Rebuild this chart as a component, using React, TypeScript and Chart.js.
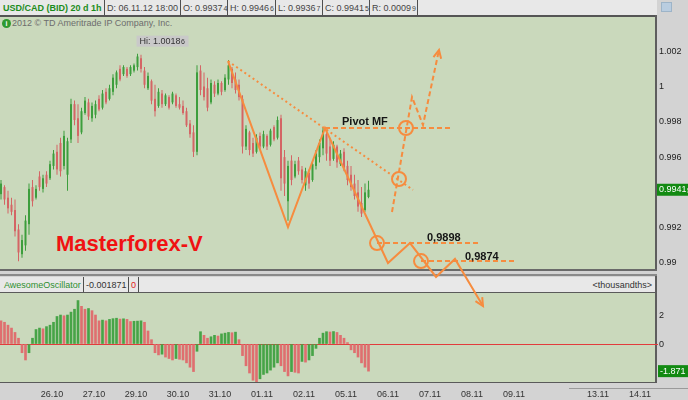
import React, { useEffect, useRef } from "react";
import { Chart, registerables } from "chart.js";
Chart.register(...registerables);

const FONT = "'Liberation Sans', Arial, Helvetica, sans-serif";

// ---- USD/CAD 2-hour bars ----
const OPEN = [
  0.9939, 0.9943, 0.9937, 0.9933, 0.9930, 0.9919, 0.9905, 0.9910, 0.9922, 0.9943,
  0.9937, 0.9949, 0.9942, 0.9950, 0.9948, 0.9955, 0.9963, 0.9968, 0.9955, 0.9950,
  0.9970, 0.9990, 0.9982, 0.9974, 0.9985, 0.9991, 0.9982, 0.9984, 0.9993, 0.9988,
  0.9997, 0.9993, 0.9997, 1.0001, 1.0010, 1.0007, 1.0010, 1.0007, 1.0009, 1.0011,
  1.0016, 1.0009, 0.9999, 1.0003, 0.9993, 0.9989, 0.9996, 0.9990, 0.9994, 0.9991,
  0.9995, 0.9990, 0.9989, 0.9986, 0.9979, 0.9974, 0.9963, 1.0009, 1.0000, 0.9999,
  0.9991, 1.0001, 0.9996, 1.0002, 0.9998, 1.0004, 1.0010, 1.0004, 1.0001, 0.9993,
  0.9966, 0.9974, 0.9968, 0.9963, 0.9972, 0.9966, 0.9972, 0.9967, 0.9977, 0.9971,
  0.9982, 0.9960, 0.9935, 0.9958, 0.9949, 0.9958, 0.9953, 0.9944, 0.9951, 0.9947,
  0.9955, 0.9960, 0.9965, 0.9973, 0.9966, 0.9959, 0.9966, 0.9956, 0.9963, 0.9955,
  0.9950, 0.9945, 0.9940, 0.9934, 0.9930, 0.99374,
];
const HIGH = [
  0.9947, 0.9944, 0.9941, 0.9937, 0.9936, 0.9922, 0.9916, 0.9927, 0.9945, 0.9947,
  0.9944, 0.9952, 0.9950, 0.9952, 0.9958, 0.9964, 0.9967, 0.9971, 0.9975, 0.9971,
  0.9993, 0.9992, 0.9990, 0.9988, 0.9994, 0.9993, 0.9991, 0.9992, 0.9995, 0.9998,
  0.9999, 1.0001, 1.0007, 1.0009, 1.0012, 1.0012, 1.0011, 1.0012, 1.0013, 1.00186,
  1.0018, 1.0011, 1.0008, 1.0004, 1.0001, 0.9999, 0.9998, 0.9996, 0.9995, 0.9997,
  0.9996, 0.9994, 0.9992, 0.9988, 0.9981, 0.9978, 1.0012, 1.0012, 1.0008, 1.0005,
  1.0004, 1.0003, 1.0004, 1.0003, 1.0007, 1.0015, 1.0011, 1.0008, 1.0004, 0.9995,
  0.9978, 0.9975, 0.9971, 0.9973, 0.9974, 0.9975, 0.9973, 0.9976, 0.9978, 0.9983,
  0.9984, 0.9964, 0.9958, 0.9961, 0.9958, 0.9960, 0.9955, 0.9954, 0.9953, 0.9958,
  0.9964, 0.9970, 0.9977, 0.9975, 0.9971, 0.9969, 0.9967, 0.9964, 0.9965, 0.9958,
  0.9955, 0.9950, 0.9947, 0.9943, 0.9945, 0.99466,
];
const LOW = [
  0.9936, 0.9933, 0.9928, 0.9927, 0.9915, 0.9901, 0.9903, 0.9907, 0.9916, 0.9932,
  0.9936, 0.9941, 0.9940, 0.9943, 0.9947, 0.9953, 0.9950, 0.9949, 0.9953, 0.9941,
  0.9968, 0.9978, 0.9968, 0.9973, 0.9984, 0.9981, 0.9980, 0.9982, 0.9986, 0.9987,
  0.9990, 0.9992, 0.9995, 0.9999, 1.0003, 1.0006, 1.0005, 1.0006, 1.0008, 1.0009,
  1.0008, 0.9999, 0.9998, 0.9990, 0.9983, 0.9988, 0.9988, 0.9989, 0.9987, 0.9990,
  0.9988, 0.9987, 0.9984, 0.9977, 0.9971, 0.9960, 0.9961, 0.9995, 0.9992, 0.9986,
  0.9990, 0.9994, 0.9995, 0.9995, 0.9997, 1.0001, 0.9999, 0.9996, 0.9992, 0.9962,
  0.9964, 0.9961, 0.9960, 0.9962, 0.9964, 0.9965, 0.9964, 0.9966, 0.9969, 0.9970,
  0.9941, 0.9938, 0.9924, 0.9944, 0.9948, 0.9950, 0.9945, 0.9941, 0.9942, 0.9946,
  0.9953, 0.9957, 0.9961, 0.9958, 0.9955, 0.9958, 0.9954, 0.9955, 0.9952, 0.9944,
  0.9941, 0.9936, 0.9929, 0.9926, 0.9929, 0.99367,
];
const CLOSE = [
  0.9945, 0.9936, 0.9931, 0.9929, 0.9918, 0.9906, 0.9913, 0.9924, 0.9942, 0.9935,
  0.9942, 0.9943, 0.9948, 0.9945, 0.9956, 0.9962, 0.9953, 0.9952, 0.9972, 0.9969,
  0.9990, 0.9981, 0.9972, 0.9986, 0.9992, 0.9983, 0.9989, 0.9990, 0.9987, 0.9996,
  0.9991, 0.9999, 1.0005, 1.0008, 1.0004, 1.0011, 1.0006, 1.0011, 1.0012, 1.0017,
  1.0010, 1.0001, 1.0006, 0.9992, 0.9986, 0.9997, 0.9990, 0.9995, 0.9988, 0.9996,
  0.9989, 0.9988, 0.9985, 0.9978, 0.9973, 0.9963, 1.0008, 0.9998, 0.9994, 0.9988,
  1.0002, 0.9996, 1.0002, 0.9997, 1.0005, 1.0012, 1.0002, 0.9998, 0.9994, 0.9966,
  0.9976, 0.9964, 0.9962, 0.9971, 0.9966, 0.9973, 0.9966, 0.9975, 0.9970, 0.9981,
  0.9948, 0.9945, 0.9955, 0.9947, 0.9956, 0.9952, 0.9947, 0.9952, 0.9945, 0.9956,
  0.9962, 0.9968, 0.9975, 0.9962, 0.9958, 0.9967, 0.9957, 0.9962, 0.9954, 0.9947,
  0.9943, 0.9938, 0.9932, 0.9928, 0.9940, 0.99415,
];

// ---- Awesome Oscillator, thousandths ----
const AO = [
  1.6, 1.5, 1.3, 1.1, 0.8, 0.4, -0.6, -1.1, -0.6, 0.4,
  1.0, 1.1, 1.05, 1.2, 1.3, 1.5, 1.9, 2.0, 1.95, 2.0,
  2.2, 2.4, 3.0, 2.6, 2.4, 2.45, 2.3, 2.0, 1.6, 1.65,
  1.6, 1.7, 1.75, 1.78, 1.72, 1.74, 1.7, 1.55, 1.57, 1.58,
  1.6, 1.5, 0.9, 0.3, -0.6, -0.75, -0.7, -0.9, -1.0, -1.1,
  -1.0, -1.05, -1.1, -1.3, -1.6, -1.9, -0.5, 0.85, 0.6, 0.4,
  0.5, 0.6, 0.55, 0.7, 0.75, 0.8, 0.78, 0.82, 0.3, -0.8,
  -1.5, -2.0, -2.5, -2.6, -2.4, -2.1, -2.0, -1.8, -1.6, -1.3,
  -1.5, -1.9, -2.2, -1.9, -1.95, -2.0, -1.2, -1.25, -1.1, -0.8,
  -0.3, 0.4, 0.75, 0.85, 0.83, 0.86, 0.8, 0.6, 0.4, 0.1,
  -0.4, -0.6, -0.9, -1.3, -1.6, -1.871,
];

// ---- axes ----
const DAY_LABELS = ["26.10", "27.10", "29.10", "30.10", "31.10", "01.11", "02.11", "05.11", "06.11", "07.11", "08.11", "09.11", "", "13.11", "14.11"];
const FIRST_DAY_BAR = 14.57;
const BARS_PER_DAY = 12;
const X_MIN = -0.286;
const X_MAX = 186.857;
const PRICE_TICKS = [0.99, 0.992, 0.994, 0.996, 0.998, 1, 1.002];
const PRICE_MIN = 0.98966;
const PRICE_MAX = 1.003938;
const AO_TICKS = [0, 2];
const AO_MIN = -2.62;
const AO_MAX = 3.52;

// ---- hand-drawn analysis (bar index, price) ----
const ZIGZAG_X = [64.86, 82.0, 92.57, 110.57, 116.86, 124.29, 129.71, 137.71];
const ZIGZAG_Y = [1.00144, 0.99204, 0.99765, 0.99, 0.99113, 0.98921, 0.99023, 0.98756];
const TREND_X = [64.86, 117.71];
const TREND_Y = [1.00144, 0.99414];
const PIVOT_X = [92.57, 128.29];
const PIVOT_Y = [0.99765, 0.99765];
const UP_X = [111.71, 117.43, 120.57, 125.14];
const UP_Y = [0.99289, 0.9994, 0.99782, 1.00207];
const LEVEL1_X = [107.43, 136.29];
const LEVEL1_Y = [0.99113, 0.99113];
const LEVEL2_X = [120, 147.43];
const LEVEL2_Y = [0.99011, 0.99011];
const CIRCLE_X = [115.71, 113.71, 107.43, 120];
const CIRCLE_Y = [0.99765, 0.99476, 0.99113, 0.99011];
const LABEL_TEXTS = ["Pivot MF", "0,9898", "0,9874"];
const LABEL_X = [97.43, 121.71, 132.57];
const LABEL_Y = [0.99799, 0.99142, 0.99034];

const ORANGE = "#f68c3f";
const GREEN_BAR = "#3d9e3d";
const RED_BAR = "#d46565";
const AO_GREEN = "#47a447";
const AO_RED = "#df6f6f";
const PANEL = "#cad9bc";

const pts = (xs: number[], ys: number[]) => xs.map((v, i) => ({ x: v, y: ys[i] }));
const split5 = (v: number) => {
  const s = v.toFixed(5);
  return [s.slice(0, -1), s.slice(-1)];
};

function drawSplit(ctx: CanvasRenderingContext2D, main: string, small: string, x: number, y: number, big: number, sm: number) {
  ctx.font = `${big}px ${FONT}`;
  ctx.fillText(main, x, y);
  const w = ctx.measureText(main).width;
  ctx.font = `${sm}px ${FONT}`;
  ctx.fillText(small, x + w + 0.5, y + 1);
}

const priceDecor = {
  id: "priceDecor",
  afterDatasetsDraw(chart: any) {
    const { ctx } = chart;
    const x = chart.scales.x;
    const y = chart.scales.y;
    ctx.save();
    const arrow = (xs: number[], ys: number[]) => {
      const n = xs.length;
      const x1 = x.getPixelForValue(xs[n - 2]);
      const y1 = y.getPixelForValue(ys[n - 2]);
      const x2 = x.getPixelForValue(xs[n - 1]);
      const y2 = y.getPixelForValue(ys[n - 1]);
      const a = Math.atan2(y2 - y1, x2 - x1);
      const L = 9;
      const w = 0.45;
      ctx.beginPath();
      ctx.moveTo(x2 - L * Math.cos(a - w), y2 - L * Math.sin(a - w));
      ctx.lineTo(x2, y2);
      ctx.lineTo(x2 - L * Math.cos(a + w), y2 - L * Math.sin(a + w));
      ctx.setLineDash([]);
      ctx.strokeStyle = ORANGE;
      ctx.lineWidth = 2;
      ctx.stroke();
    };
    arrow(ZIGZAG_X, ZIGZAG_Y);
    arrow(UP_X, UP_Y);

    ctx.font = `bold 11px ${FONT}`;
    ctx.fillStyle = "#151515";
    ctx.textBaseline = "middle";
    ctx.textAlign = "left";
    LABEL_TEXTS.forEach((t, i) => ctx.fillText(t, x.getPixelForValue(LABEL_X[i]), y.getPixelForValue(LABEL_Y[i])));

    // Hi label
    let hi = 0;
    HIGH.forEach((v, i) => { if (v > HIGH[hi]) hi = i; });
    const hx = x.getPixelForValue(hi);
    const hy = y.getPixelForValue(HIGH[hi]);
    const [m, s] = split5(HIGH[hi]);
    const main = "Hi: " + m;
    ctx.font = `9px ${FONT}`;
    const tw = ctx.measureText(main).width + 6;
    ctx.fillStyle = "#c9c9c9";
    ctx.fillRect(hx - 1, hy - 18, tw + 5, 11);
    ctx.fillStyle = "#333";
    drawSplit(ctx, main, s, hx + 2, hy - 12.5, 9, 7);
    ctx.restore();
  },
  afterDraw(chart: any) {
    const { ctx } = chart;
    const y = chart.scales.y;
    const last = CLOSE[CLOSE.length - 1];
    const py = y.getPixelForValue(last);
    ctx.save();
    ctx.fillStyle = "#128a12";
    ctx.fillRect(657, py - 6, 31, 12);
    ctx.fillStyle = "#ffffff";
    ctx.textBaseline = "middle";
    ctx.textAlign = "left";
    const [m, s] = split5(last);
    drawSplit(ctx, m, s, 659, py, 9, 7);
    ctx.restore();
  },
};

const aoDecor = {
  id: "aoDecor",
  afterDraw(chart: any) {
    const { ctx } = chart;
    const y = chart.scales.y;
    const last = AO[AO.length - 1];
    const py = y.getPixelForValue(last);
    ctx.save();
    ctx.fillStyle = "#128a12";
    ctx.fillRect(658, py - 6, 30, 12);
    ctx.fillStyle = "#ffffff";
    ctx.font = `9px ${FONT}`;
    ctx.textBaseline = "middle";
    ctx.textAlign = "left";
    ctx.fillText(last.toFixed(3), 660, py);
    ctx.restore();
  },
};

export default function App() {
  const priceRef = useRef<HTMLCanvasElement>(null);
  const aoRef = useRef<HTMLCanvasElement>(null);

  useEffect(() => {
    Chart.defaults.font.family = FONT;
    const idx = OPEN.map((_, i) => i);
    const candleColor = idx.map((i) => (CLOSE[i] >= OPEN[i] ? GREEN_BAR : RED_BAR));
    const aoColor = AO.map((v, i) => (i > 0 && v >= AO[i - 1] ? AO_GREEN : AO_RED));
    const line = (xs: number[], ys: number[], dash: number[]) => ({
      type: "line" as const,
      data: pts(xs, ys),
      borderColor: ORANGE,
      borderWidth: 2,
      borderDash: dash,
      pointRadius: 0,
      tension: 0,
      clip: false as any,
      order: 1,
    });

    const pc = new Chart(priceRef.current!, {
      type: "bar",
      data: {
        datasets: [
          {
            type: "bar",
            data: idx.map((i) => ({ x: i, y: [LOW[i], HIGH[i]] })) as any,
            backgroundColor: candleColor,
            maxBarThickness: 1,
            grouped: false,
            order: 10,
          },
          {
            type: "bar",
            data: idx.map((i) => ({ x: i, y: [Math.min(OPEN[i], CLOSE[i]), Math.max(OPEN[i], CLOSE[i])] })) as any,
            backgroundColor: candleColor,
            maxBarThickness: 2,
            grouped: false,
            order: 9,
          },
          line(TREND_X, TREND_Y, [2, 3]),
          line(ZIGZAG_X, ZIGZAG_Y, []),
          line(PIVOT_X, PIVOT_Y, [5, 3]),
          line(UP_X, UP_Y, [5, 3]),
          line(LEVEL1_X, LEVEL1_Y, [5, 3]),
          line(LEVEL2_X, LEVEL2_Y, [5, 3]),
          {
            type: "line",
            data: pts(CIRCLE_X, CIRCLE_Y),
            showLine: false,
            pointRadius: 7,
            pointBorderWidth: 2,
            pointBorderColor: ORANGE,
            pointBackgroundColor: "rgba(0,0,0,0)",
            clip: false as any,
            order: 0,
          } as any,
        ],
      },
      options: {
        responsive: false,
        animation: false,
        events: [],
        layout: { autoPadding: false, padding: { top: 17, bottom: 51, left: 0, right: 0 } },
        scales: {
          x: { type: "linear", min: X_MIN, max: X_MAX, offset: false, display: false },
          y: {
            type: "linear",
            position: "right",
            min: PRICE_MIN,
            max: PRICE_MAX,
            afterFit: (s: any) => { s.width = 33; },
            afterBuildTicks: (s: any) => { s.ticks = PRICE_TICKS.map((v) => ({ value: v })); },
            ticks: {
              padding: 4,
              font: { size: 9 },
              color: "#222",
              callback: (v: any) => String(Number(Number(v).toFixed(3))),
            },
            grid: { display: false, drawTicks: false },
            border: { display: false },
          },
        },
        plugins: { legend: { display: false }, tooltip: { enabled: false } },
      },
      plugins: [priceDecor],
    } as any);

    const ac = new Chart(aoRef.current!, {
      type: "bar",
      data: {
        datasets: [
          {
            data: AO.map((v, i) => ({ x: i, y: v })) as any,
            backgroundColor: aoColor,
            barThickness: 2,
          },
        ],
      },
      options: {
        responsive: false,
        animation: false,
        events: [],
        layout: { autoPadding: false, padding: { top: 13, bottom: 0, left: 0, right: 0 } },
        scales: {
          x: {
            type: "linear",
            min: X_MIN,
            max: X_MAX,
            offset: false,
            afterFit: (s: any) => { s.height = 18; },
            afterBuildTicks: (s: any) => {
              s.ticks = DAY_LABELS.map((_, k) => ({ value: FIRST_DAY_BAR + k * BARS_PER_DAY }));
            },
            ticks: {
              autoSkip: false,
              maxRotation: 0,
              padding: 7,
              font: { size: 9 },
              color: "#333",
              callback: (_v: any, i: number) => DAY_LABELS[i],
            },
            grid: { display: false, drawTicks: false },
            border: { display: false },
          },
          y: {
            type: "linear",
            position: "right",
            min: AO_MIN,
            max: AO_MAX,
            afterFit: (s: any) => { s.width = 33; },
            afterBuildTicks: (s: any) => { s.ticks = AO_TICKS.map((v) => ({ value: v })); },
            ticks: { padding: 1, font: { size: 9 }, color: "#222", callback: (v: any) => String(v) },
            grid: {
              color: (c: any) => (c.tick && c.tick.value === 0 ? "#e23c3c" : "rgba(0,0,0,0)"),
              drawTicks: true,
              tickLength: 3,
              lineWidth: 1,
            },
            border: { display: false },
          },
        },
        plugins: { legend: { display: false }, tooltip: { enabled: false } },
      },
      plugins: [aoDecor],
    } as any);

    return () => {
      pc.destroy();
      ac.destroy();
    };
  }, []);

  const n = OPEN.length - 1;
  const cells: { left: number; width: number; main: string; small?: string; color?: string; bold?: boolean }[] = [
    { left: 0, width: 104, main: "USD/CAD (BID) 20 d 1h", color: "#1c8c1c", bold: true },
    { left: 104, width: 76, main: "D: 06.11.12 18:00" },
    { left: 180, width: 47, main: "O: " + split5(OPEN[n])[0], small: split5(OPEN[n])[1] },
    { left: 227, width: 48, main: "H: " + split5(HIGH[n])[0], small: split5(HIGH[n])[1] },
    { left: 275, width: 47, main: "L: " + split5(LOW[n])[0], small: split5(LOW[n])[1] },
    { left: 322, width: 47, main: "C: " + split5(CLOSE[n])[0], small: split5(CLOSE[n])[1] },
    { left: 369, width: 48, main: "R: " + split5(HIGH[n] - LOW[n])[0], small: split5(HIGH[n] - LOW[n])[1] },
    { left: 417, width: 240, main: "" },
  ];

  const abs = (o: React.CSSProperties): React.CSSProperties => ({ position: "absolute", boxSizing: "border-box", ...o });

  return (
    <div style={{ position: "fixed", left: 0, top: 0, width: 688, height: 400, background: "#d3d3d3", overflow: "hidden", fontFamily: FONT }}>
      {/* header */}
      {cells.map((c, i) => (
        <div
          key={i}
          style={abs({
            left: c.left,
            top: 0,
            width: c.width,
            height: 15,
            background: "#e8e8e8",
            borderLeft: i === 0 ? "none" : "1px solid #4f4f4f",
            fontSize: 9,
            color: c.color || "#454545",
            fontWeight: c.bold ? "bold" : "normal",
            display: "flex",
            alignItems: "center",
            paddingLeft: i === 0 ? 3 : 2,
            whiteSpace: "nowrap",
          })}
        >
          {c.main}
          {c.small ? <span style={{ fontSize: 7, marginLeft: 1, marginTop: 2 }}>{c.small}</span> : null}
        </div>
      ))}
      <div style={abs({ left: 0, top: 15, width: 657, height: 2, background: "#555" })} />
      <div style={abs({ left: 661, top: 2, width: 11, height: 10, background: "#b9cde0", border: "1px solid #9db4c8" })} />

      {/* price panel */}
      <div style={abs({ left: 0, top: 17, width: 655, height: 252, background: PANEL })} />
      <div style={abs({ left: 655, top: 15, width: 2, height: 256, background: "#5e5e5e" })} />
      <div style={abs({ left: 0, top: 269, width: 657, height: 2, background: "#6a6a6a" })} />
      <div style={abs({ left: 0, top: 274, width: 657, height: 2, background: "#8a8a8a" })} />

      <div style={abs({ left: 2, top: 19, width: 9, height: 9, borderRadius: "50%", background: "#2f9a2f", color: "#fff", fontSize: 7, fontWeight: "bold", textAlign: "center", lineHeight: "9px" })}>i</div>
      <div style={abs({ left: 12, top: 18, fontSize: 9, color: "#6d6d6d", lineHeight: "11px", whiteSpace: "nowrap" })}>2012 © TD Ameritrade IP Company, Inc.</div>
      <div style={abs({ left: 56, top: 233, fontSize: 22, fontWeight: "bold", color: "#f01212", lineHeight: "22px", whiteSpace: "nowrap" })}>Masterforex-V</div>

      {/* oscillator header */}
      <div style={abs({ left: 0, top: 277, width: 655, height: 15, background: "#e8e8e8" })} />
      <div style={abs({ left: 4, top: 277, height: 15, fontSize: 9, color: "#2e8f2e", display: "flex", alignItems: "center" })}>AwesomeOscillator</div>
      <div style={abs({ left: 83, top: 277, width: 1, height: 15, background: "#4f4f4f" })} />
      <div style={abs({ left: 86, top: 277, height: 15, fontSize: 9, color: "#333", display: "flex", alignItems: "center" })}>{(AO[AO.length - 1] / 1000).toFixed(6)}</div>
      <div style={abs({ left: 128, top: 277, width: 1, height: 15, background: "#4f4f4f" })} />
      <div style={abs({ left: 131, top: 277, height: 15, fontSize: 9, color: "#e02020", display: "flex", alignItems: "center" })}>0</div>
      <div style={abs({ left: 138, top: 277, width: 1, height: 15, background: "#4f4f4f" })} />
      <div style={abs({ left: 560, top: 277, width: 92, height: 15, fontSize: 9, color: "#333", display: "flex", alignItems: "center", justifyContent: "flex-end" })}>&lt;thousandths&gt;</div>
      <div style={abs({ left: 0, top: 292, width: 657, height: 1, background: "#5a5a5a" })} />

      {/* oscillator panel */}
      <div style={abs({ left: 0, top: 293, width: 655, height: 89, background: PANEL })} />
      <div style={abs({ left: 655, top: 276, width: 2, height: 107, background: "#5e5e5e" })} />
      <div style={abs({ left: 0, top: 382, width: 657, height: 1, background: "#5a5a5a" })} />
      <div style={abs({ left: 569, top: 388, width: 119, height: 1, background: "#9a9a9a" })} />

      <canvas ref={aoRef} width={688} height={120} style={{ position: "absolute", left: 0, top: 280, width: 688, height: 120 }} />
      <canvas ref={priceRef} width={688} height={320} style={{ position: "absolute", left: 0, top: 0, width: 688, height: 320 }} />
    </div>
  );
}
